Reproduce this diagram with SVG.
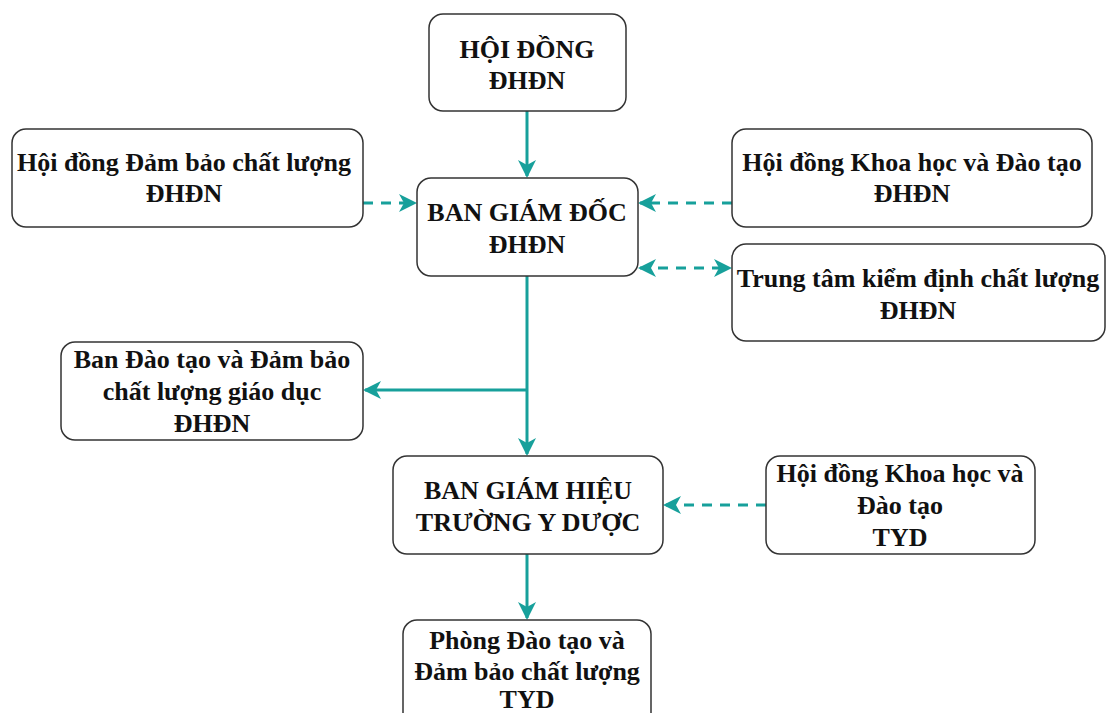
<svg xmlns="http://www.w3.org/2000/svg" width="1106" height="713" viewBox="0 0 1106 713">
<style>
.box{fill:#fff;stroke:#333;stroke-width:1.5}
.t{font-family:"Liberation Serif","Times New Roman",serif;font-weight:bold;font-size:26px;fill:#111;text-anchor:middle}
.c{fill:none;stroke:#17a09b;stroke-width:3}
.d{stroke-dasharray:10,8}
</style>
<defs>
<marker id="ah" viewBox="0 0 18 18" refX="16" refY="9" markerWidth="18" markerHeight="18" markerUnits="userSpaceOnUse" orient="auto-start-reverse">
<path d="M0,0 L18,9 L0,18 L5,9 Z" fill="#17a09b"/>
</marker>
</defs>
<rect width="1106" height="713" fill="#fff"/>
<g id="connectors">
<path class="c" d="M527,111 V176" marker-end="url(#ah)"/>
<path class="c d" d="M363,203 H415" marker-end="url(#ah)"/>
<path class="c d" d="M732,203 H640" marker-end="url(#ah)"/>
<path class="c d" d="M640,268 H730" marker-start="url(#ah)" marker-end="url(#ah)"/>
<path class="c" d="M527,276 V454" marker-end="url(#ah)"/>
<path class="c" d="M527,390 H365" marker-end="url(#ah)"/>
<path class="c d" d="M766,505 H665" marker-end="url(#ah)"/>
<path class="c" d="M527,554 V618" marker-end="url(#ah)"/>
</g>
<g id="hoidong">
<rect class="box" x="429" y="14" width="197" height="97" rx="14"/>
<text class="t" x="527" y="58">HỘI ĐỒNG</text>
<text class="t" x="527" y="89">ĐHĐN</text>
</g>
<g id="hd-dbcl">
<rect class="box" x="12" y="129" width="351" height="98" rx="14"/>
<text class="t" x="184" y="171">Hội đồng Đảm bảo chất lượng</text>
<text class="t" x="184" y="202">ĐHĐN</text>
</g>
<g id="bgd">
<rect class="box" x="417" y="178" width="221" height="98" rx="14"/>
<text class="t" x="527" y="221">BAN GIÁM ĐỐC</text>
<text class="t" x="527" y="253">ĐHĐN</text>
</g>
<g id="hd-khdt">
<rect class="box" x="732" y="129" width="360" height="98" rx="14"/>
<text class="t" x="912" y="171">Hội đồng Khoa học và Đào tạo</text>
<text class="t" x="912" y="202">ĐHĐN</text>
</g>
<g id="ttkd">
<rect class="box" x="732" y="244" width="373" height="97" rx="14"/>
<text class="t" x="918" y="287">Trung tâm kiểm định chất lượng</text>
<text class="t" x="918" y="319">ĐHĐN</text>
</g>
<g id="ban-dt">
<rect class="box" x="61" y="342" width="302" height="98" rx="14"/>
<text class="t" x="212" y="368">Ban Đào tạo và Đảm bảo</text>
<text class="t" x="212" y="400">chất lượng giáo dục</text>
<text class="t" x="212" y="432">ĐHĐN</text>
</g>
<g id="bgh">
<rect class="box" x="393" y="456" width="270" height="98" rx="14"/>
<text class="t" x="528" y="499">BAN GIÁM HIỆU</text>
<text class="t" x="528" y="531">TRƯỜNG Y DƯỢC</text>
</g>
<g id="hd-tyd">
<rect class="box" x="766" y="456" width="269" height="98" rx="14"/>
<text class="t" x="900" y="482">Hội đồng Khoa học và</text>
<text class="t" x="900" y="514">Đào tạo</text>
<text class="t" x="900" y="546">TYD</text>
</g>
<g id="phong">
<rect class="box" x="403" y="620" width="248" height="110" rx="14"/>
<text class="t" x="527" y="649">Phòng Đào tạo và</text>
<text class="t" x="527" y="680">Đảm bảo chất lượng</text>
<text class="t" x="527" y="708">TYD</text>
</g>
</svg>
